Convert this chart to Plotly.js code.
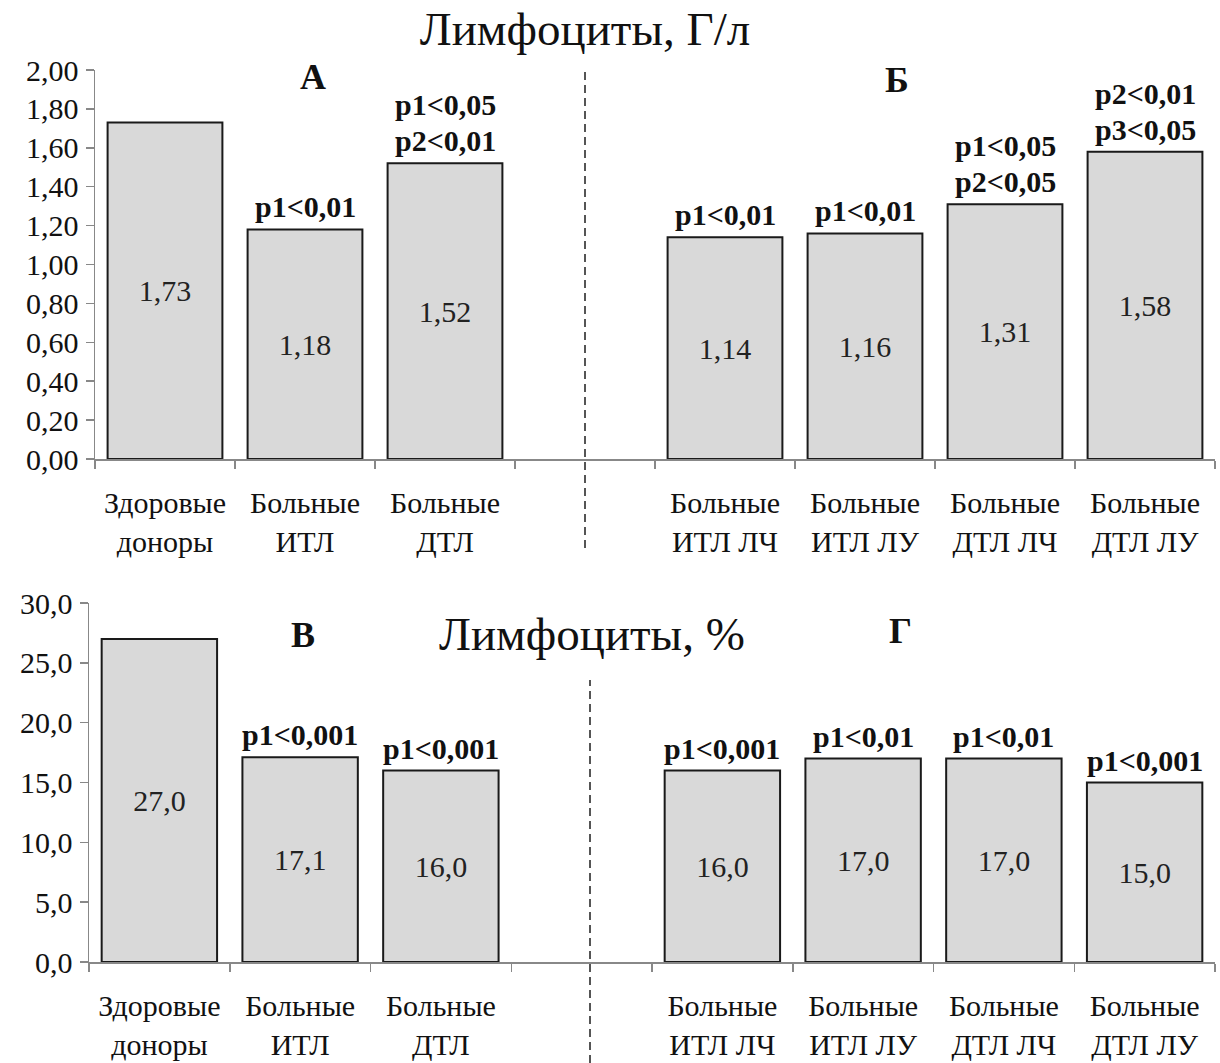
<!DOCTYPE html>
<html><head><meta charset="utf-8">
<script src="https://cdn.plot.ly/plotly-3.0.1.min.js"></script>
<style>body{margin:0;background:#fff}#c{width:1220px;height:1063px}</style>
</head><body><div id="c"></div>
<script>
const catsA = ["Здоровые<br>доноры", "Больные<br>ИТЛ", "Больные<br>ДТЛ"];
const gapCat = " ";
const catsB = ["Больные<br>ИТЛ ЛЧ", "Больные<br>ИТЛ ЛУ", "Больные<br>ДТЛ ЛЧ", "Больные<br>ДТЛ ЛУ"];
const absA = [1.73, 1.18, 1.52];
const absB = [1.14, 1.16, 1.31, 1.58];
const pctA = [27.0, 17.1, 16.0];
const pctB = [16.0, 17.0, 17.0, 15.0];
const pAbsA = ["", "p1&lt;0,01", "p1&lt;0,05<br>p2&lt;0,01"];
const pAbsB = ["p1&lt;0,01", "p1&lt;0,01", "p1&lt;0,05<br>p2&lt;0,05", "p2&lt;0,01<br>p3&lt;0,05"];
const pPctA = ["", "p1&lt;0,001", "p1&lt;0,001"];
const pPctB = ["p1&lt;0,001", "p1&lt;0,01", "p1&lt;0,01", "p1&lt;0,001"];
const title1 = "Лимфоциты, Г/л";
const title2 = "Лимфоциты, %";
const panels = ["А", "Б", "В", "Г"];

const W = 1220, H = 1063;
const px = x => x / W, py = y => 1 - y / H;
const serif = "Liberation Serif";
const allCats = [...catsA, gapCat, ...catsB];
const fmt = (v, d) => v.toFixed(d).replace('.', ',');

function barTrace(vals, dec, xa, ya) {
  const y = [...vals.slice(0, 3), null, ...vals.slice(3)];
  return {
    type: 'bar', x: allCats, y: y, xaxis: xa, yaxis: ya,
    text: y.map(v => v === null ? '' : fmt(v, dec)),
    textposition: 'inside', insidetextanchor: 'middle', textangle: 0,
    textfont: {family: serif, size: 30, color: '#222'},
    marker: {color: '#d9d9d9', line: {color: '#1a1a1a', width: 2}},
    hoverinfo: 'skip', cliponaxis: false
  };
}

const traces = [
  barTrace([...absA, ...absB], 2, 'x', 'y'),
  barTrace([...pctA, ...pctB], 1, 'x2', 'y2')
];

const annotations = [];
function pAnn(labels, vals, xa, ya) {
  const cats = labels.length === 3 ? catsA : catsB;
  labels.forEach((t, i) => {
    if (!t) return;
    const lines = t.split('<br>').reverse();
    lines.forEach((ln, k) => {
      annotations.push({xref: xa, yref: ya, x: cats[i], y: vals[i], yanchor: 'bottom', yshift: 4 + 36 * k,
        text: '<b>' + ln + '</b>', showarrow: false, font: {family: serif, size: 30, color: '#111'}});
    });
  });
}
pAnn(pAbsA, absA, 'x', 'y');
pAnn(pAbsB, absB, 'x', 'y');
pAnn(pPctA, pctA, 'x2', 'y2');
pAnn(pPctB, pctB, 'x2', 'y2');

const panelPos = [[313, 77], [897, 80], [303, 635], [900, 631]];
panels.forEach((t, i) => annotations.push({xref: 'paper', yref: 'paper', x: px(panelPos[i][0]), y: py(panelPos[i][1]),
  xanchor: 'center', yanchor: 'middle', text: '<b>' + t + '</b>', showarrow: false,
  font: {family: serif, size: 36, color: '#111'}}));
annotations.push({xref: 'paper', yref: 'paper', x: px(592), y: py(634), xanchor: 'center', yanchor: 'middle',
  text: title2, showarrow: false, font: {family: serif, size: 47, color: '#111'}});

const xBase = {
  type: 'category', categoryorder: 'array', categoryarray: allCats, range: [-0.5, 7.5],
  tickson: 'boundaries', ticks: 'outside', ticklen: 8, tickcolor: '#888', tickwidth: 1.5,
  showline: true, linecolor: '#888', linewidth: 1.5, showgrid: false, zeroline: false,
  tickfont: {family: serif, size: 30, color: '#111'}, ticklabelstandoff: 16, automargin: false, fixedrange: true
};
const yBase = {
  ticks: 'outside', ticklen: 8, tickcolor: '#888', tickwidth: 1.5, showline: true, linecolor: '#888', linewidth: 1.5,
  showgrid: false, zeroline: false, tickfont: {family: serif, size: 30, color: '#111'}, ticklabelstandoff: 1,
  automargin: false, fixedrange: true
};

const layout = {
  width: W, height: H, margin: {l: 0, r: 0, t: 0, b: 0}, paper_bgcolor: '#fff', plot_bgcolor: '#fff',
  showlegend: false, bargap: 0.18, separators: ', ', font: {family: serif},
  title: {text: title1, x: px(585), y: py(29), xanchor: 'center', yanchor: 'middle', font: {family: serif, size: 47, color: '#111'}},
  xaxis: Object.assign({}, xBase, {domain: [px(95), px(1215)], anchor: 'y'}),
  yaxis: Object.assign({}, yBase, {domain: [py(459), py(70)], range: [0, 2], dtick: 0.2, tickformat: '.2f', anchor: 'x'}),
  xaxis2: Object.assign({}, xBase, {domain: [px(89), px(1215)], anchor: 'y2'}),
  yaxis2: Object.assign({}, yBase, {domain: [py(962), py(603)], range: [0, 30], dtick: 5, tickformat: '.1f', anchor: 'x2'}),
  annotations: annotations,
  shapes: [
    {type: 'line', xref: 'paper', yref: 'paper', x0: px(585), x1: px(585), y0: py(548), y1: py(68), line: {color: '#555', width: 2, dash: '8px,5px'}},
    {type: 'line', xref: 'paper', yref: 'paper', x0: px(590), x1: px(590), y0: py(1063), y1: py(680), line: {color: '#555', width: 2, dash: '8px,5px'}}
  ]
};

Plotly.newPlot('c', traces, layout, {staticPlot: true, displayModeBar: false});
</script></body></html>
